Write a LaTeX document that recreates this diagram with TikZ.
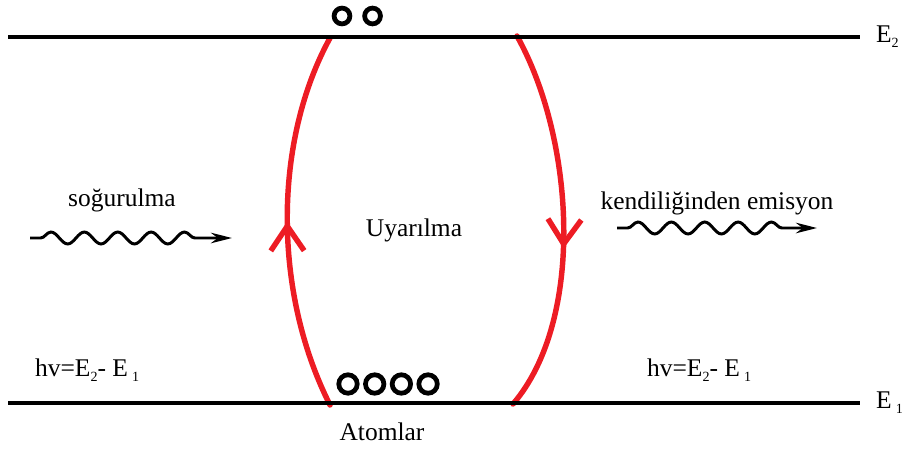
\documentclass[tikz,border=0pt]{standalone}
\usepackage{fontspec}
\setmainfont{Liberation Serif}
\usepackage{tikz}
\usetikzlibrary{positioning, arrows.meta, decorations.pathmorphing, decorations.markings}
\definecolor{trred}{RGB}{237,28,36}
\newcommand{\lsub}[1]{\raisebox{-3pt}{\fontsize{8}{8}\selectfont #1}}

\begin{document}
\begin{tikzpicture}[
    x=0.02cm, y=-0.02cm,
    level/.style={line width=2.3pt},
    atom/.style={circle, draw, line width=2.7pt, minimum size=10.5pt, inner sep=0pt},
    atomsm/.style={atom, minimum size=9pt},
    lbl/.style={font=\fontsize{14.5}{17}\selectfont, inner sep=1pt},
    photon/.style={-{Stealth[length=12pt, width=6pt]}, line width=1.7pt, decorate,
        decoration={snake, amplitude=3.4pt, segment length=19pt, pre length=6pt, post length=16pt}},
    trans/.style={trred, line width=3.1pt, line cap=round,
        decoration={markings, mark=at position #1 with {\arrow[trred, line cap=round, line join=round]{Straight Barb[length=14pt, width=19pt]}}},
        postaction={decorate}}
]
    \useasboundingbox (0,0) rectangle (902,450);

    % Level end points
    \coordinate (e2l) at (8,37);
    \coordinate (e2r) at (860,37);
    \coordinate (e1l) at (8,403);
    \coordinate (e1r) at (860,403);

    % Transitions (under the levels)
    \coordinate (lb) at (330,405);
    \coordinate (lt) at (330,38);
    \coordinate (rt) at (517,36);
    \coordinate (rb) at (513,404);
    \draw[trans=0.5] (lb) .. controls (272,290) and (274,140) .. (lt);
    \draw[trans=0.57] (rt) .. controls (575,140) and (585,320) .. (rb);

    % Energy levels
    \draw[level] (e2l) -- (e2r);
    \draw[level] (e1l) -- (e1r);
    \node[lbl, right=0.28cm of e2r] (E2) {E\lsub{2}};
    \node[lbl, right=0.28cm of e1r] (E1) {E\,\lsub{1}};

    % Atoms
    \node[atomsm] (t1) at (342,16) {};
    \node[atomsm, right=0.2cm of t1] (t2) {};
    \node[atom] (b1) at (348,384) {};
    \node[atom, right=0.07cm of b1] (b2) {};
    \node[atom, right=0.07cm of b2] (b3) {};
    \node[atom, right=0.07cm of b3] (b4) {};
    \node[lbl] (atm) at (382,432) {Atomlar};

    % Photons
    \node[lbl] (sog) at (122,200) {soğurulma};
    \node[lbl] (ken) at (717,203) {kendiliğinden emisyon};
    \node[lbl] (uya) at (414,230) {Uyarılma};
    \coordinate (w1s) at (30,238);
    \coordinate (w1e) at (232,238);
    \coordinate (w2s) at (617,228);
    \coordinate (w2e) at (817,228);
    \draw[photon] (w1s) -- (w1e);
    \draw[photon] (w2s) -- (w2e);

    % Energy difference
    \node[lbl, anchor=west] (hvl) at (33,370) {hv=E\lsub{2}- E\,\lsub{1}};
    \node[lbl, anchor=west] (hvr) at (645,370) {hv=E\lsub{2}- E\,\lsub{1}};
\end{tikzpicture}
\end{document}
